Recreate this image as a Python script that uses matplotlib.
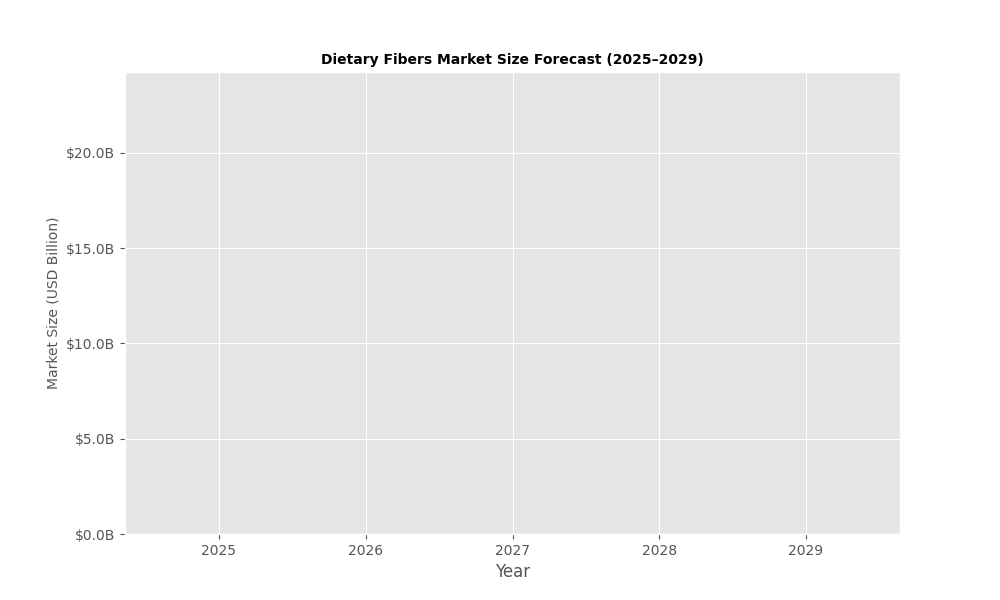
import matplotlib
matplotlib.use("Agg")
import matplotlib.pyplot as plt
from matplotlib.ticker import FuncFormatter

plt.style.use("ggplot")

years = [2025, 2026, 2027, 2028, 2029]
y_max = 24.25
x_pad = 0.64

fig, ax = plt.subplots(figsize=(10, 6), dpi=100)
ax.set_xlim(years[0] - x_pad, years[-1] + x_pad)
ax.set_ylim(0, y_max)
ax.set_xticks(years)
ax.set_xticklabels([str(y) for y in years])
ax.yaxis.set_major_formatter(FuncFormatter(lambda v, p: f"${v:.1f}B"))
ax.set_title("Dietary Fibers Market Size Forecast (2025–2029)", fontsize=10, fontweight="bold")
ax.set_xlabel("Year", fontsize=12)
ax.set_ylabel("Market Size (USD Billion)", fontsize=10)
fig.savefig("out.png", dpi=100)
